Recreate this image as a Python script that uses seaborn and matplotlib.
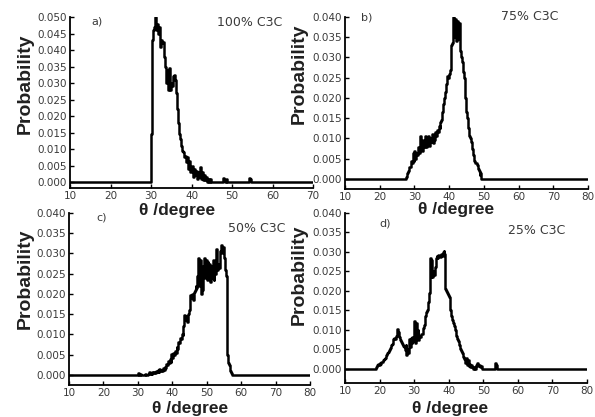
import numpy as np
import pandas as pd
import matplotlib
matplotlib.use("Agg")
import matplotlib.pyplot as plt
import seaborn as sns

# ---------------- data ----------------
step = 0.25

# a) 100% C3C
start_a = 29.75
prob_a = [0.0, 0.0145, 0.043, 0.046, 0.047, 0.050, 0.046, 0.048, 0.045, 0.047,
          0.041, 0.043, 0.042, 0.0425, 0.038, 0.035, 0.030, 0.034, 0.028, 0.0345,
          0.028, 0.030, 0.029, 0.032, 0.0325, 0.031, 0.027, 0.022, 0.018, 0.0145,
          0.013, 0.011, 0.0095, 0.009, 0.0075, 0.008, 0.006, 0.0075, 0.004, 0.0065,
          0.003, 0.005, 0.0015, 0.004, 0.002, 0.0035, 0.001, 0.003, 0.0015, 0.0045,
          0.001, 0.003, 0.0005, 0.002, 0.0005, 0.0015, 0.0, 0.001, 0.0, 0.0008,
          0.0, 0.0, 0.0, 0.0, 0.0, 0.0, 0.0, 0.0, 0.0, 0.0, 0.0, 0.0, 0.0012, 0.0006,
          0.0, 0.0008, 0.0, 0.0, 0.0, 0.0, 0.0, 0.0, 0.0, 0.0, 0.0, 0.0, 0.0, 0.0,
          0.0, 0.0, 0.0, 0.0, 0.0, 0.0, 0.0, 0.0, 0.0, 0.0, 0.0012, 0.0008, 0.0]

# b) 75% C3C
start_b = 27.25
prob_b = [0.0, 0.0005, 0.001, 0.0015, 0.002, 0.003, 0.003, 0.0045, 0.004, 0.0065,
          0.0045, 0.007, 0.005, 0.0065, 0.006, 0.008, 0.0065, 0.0105, 0.0075, 0.009,
          0.0070, 0.0095, 0.0078, 0.0105, 0.0080, 0.0095, 0.0085, 0.0105, 0.0082, 0.0100,
          0.0090, 0.0112, 0.0088, 0.0105, 0.0095, 0.0115, 0.0105, 0.0120, 0.0115, 0.0130,
          0.0125, 0.0140, 0.0145, 0.0165, 0.0185, 0.0200, 0.0215, 0.0235, 0.0240, 0.0255,
          0.0250, 0.0260, 0.0270, 0.0330, 0.0335, 0.0335, 0.0400, 0.0350, 0.0395, 0.0340,
          0.0390, 0.0345, 0.0385, 0.0330, 0.0315, 0.0300, 0.0290, 0.0265, 0.0250, 0.0200,
          0.0165, 0.0160, 0.0150, 0.0125, 0.0105, 0.0100, 0.0090, 0.0075, 0.0065, 0.0060,
          0.0045, 0.0040, 0.0040, 0.0035, 0.0025, 0.0020, 0.0010, 0.0015, 0.0]

# c) 50% C3C
start_c = 30.0
prob_c = [0.0004, 0.0, 0.0, 0.0003, 0.0, 0.0, 0.0, 0.0, 0.0002, 0.0, 0.0, 0.0,
          0.0003, 0.0006, 0.0003, 0.0005, 0.0002, 0.0006, 0.0004, 0.0008, 0.0005, 0.0009,
          0.0006, 0.0012, 0.0008, 0.0015, 0.0010, 0.0013, 0.0009, 0.0016, 0.0012, 0.0020,
          0.0018, 0.0028, 0.0024, 0.0034, 0.0030, 0.0040, 0.0033, 0.0052, 0.0042, 0.0055,
          0.0048, 0.0060, 0.0055, 0.0068, 0.0065, 0.0082, 0.0078, 0.0092, 0.0088, 0.0102,
          0.0098, 0.0120, 0.0148, 0.0135, 0.0145, 0.0130, 0.0150, 0.0160, 0.0175, 0.0198,
          0.0190, 0.0200, 0.0185, 0.0205, 0.0210, 0.0220, 0.0215, 0.0245, 0.0288, 0.0220,
          0.0285, 0.0200, 0.0260, 0.0210, 0.0270, 0.0290, 0.0240, 0.0285, 0.0235, 0.0280,
          0.0245, 0.0275, 0.0230, 0.0270, 0.0240, 0.0285, 0.0235, 0.0275, 0.0250, 0.0310,
          0.0260, 0.0275, 0.0265, 0.0295, 0.0305, 0.0322, 0.0300, 0.0315, 0.0290, 0.0260,
          0.0245, 0.0055, 0.0050, 0.0030, 0.0025, 0.0010, 0.0004, 0.0]

# d) 25% C3C
start_d = 18.75
prob_d = [0.0, 0.0005, 0.0008, 0.0012, 0.0010, 0.0015, 0.0013, 0.0018, 0.0017, 0.0022,
          0.0024, 0.0026, 0.0030, 0.0035, 0.0040, 0.0043, 0.0048, 0.0052, 0.0060, 0.0064,
          0.0070, 0.0075, 0.0078, 0.0077, 0.0085, 0.0103, 0.0095, 0.0088, 0.0080, 0.0073,
          0.0068, 0.0062, 0.0058, 0.0055, 0.0048, 0.0060, 0.0035, 0.0050, 0.0040, 0.0075,
          0.0055, 0.0078, 0.0065, 0.0080, 0.0070, 0.0122, 0.0065, 0.0118, 0.0080, 0.0100,
          0.0073, 0.0085, 0.0080, 0.0090, 0.0088, 0.0105, 0.0111, 0.0125, 0.0135, 0.0145,
          0.0150, 0.0170, 0.0195, 0.0285, 0.0235, 0.0280, 0.0235, 0.0250, 0.0240, 0.0260,
          0.0285, 0.0290, 0.0285, 0.0292, 0.0290, 0.0288, 0.0295, 0.0290, 0.0300, 0.0303,
          0.0295, 0.0205, 0.0200, 0.0195, 0.0190, 0.0185, 0.0160, 0.0150, 0.0135, 0.0125,
          0.0117, 0.0110, 0.0100, 0.0095, 0.0085, 0.0075, 0.0070, 0.0060, 0.0050, 0.0045,
          0.0040, 0.0035, 0.0030, 0.0025, 0.0015, 0.0028, 0.0010, 0.0022, 0.0006, 0.0012,
          0.0004, 0.0008, 0.0003, 0.0, 0.0004, 0.0, 0.0, 0.0008, 0.0015, 0.0006,
          0.0010, 0.0003, 0.0006, 0.0, 0.0, 0.0, 0.0, 0.0, 0.0, 0.0,
          0.0, 0.0, 0.0, 0.0, 0.0, 0.0, 0.0, 0.0, 0.0, 0.0015, 0.0008, 0.0]

panel_tags = ["a)", "b)", "c)", "d)"]
panel_titles = ["100% C3C", "75% C3C", "50% C3C", "25% C3C"]
x_ranges = [(10, 70), (10, 80), (10, 80), (10, 80)]
y_tops = [0.050, 0.040, 0.040, 0.040]
x_label = "θ /degree"
y_label = "Probability"

# ---------------- style ----------------
sns.set_style("ticks")
plt.rcParams["font.family"] = ["DejaVu Sans"]

W, H = 595, 417
fig = plt.figure(figsize=(W / 100, H / 100), dpi=100)
fig.patch.set_facecolor("white")


def px_rect(left, top, right, bottom):
    return [left / W, 1 - bottom / H, (right - left) / W, (bottom - top) / H]


layout = [
    dict(rect=(70, 17, 313, 188), ybot=-0.0018, xl=(0.44, -0.13), yl=(-0.185, 0.61),
         tag=(97, 21), title=(250, 22)),
    dict(rect=(345, 17, 588, 189), ybot=-0.0025, xl=(0.457, -0.12), yl=(-0.19, 0.67),
         tag=(367, 17), title=(530, 16)),
    dict(rect=(69, 213, 310, 385), ybot=-0.0025, xl=(0.502, -0.135), yl=(-0.183, 0.616),
         tag=(102, 217), title=(257, 229)),
    dict(rect=(345, 213, 587, 383), ybot=-0.0037, xl=(0.434, -0.15), yl=(-0.19, 0.635),
         tag=(385, 224), title=(537, 230)),
]

series = [(start_a, prob_a), (start_b, prob_b), (start_c, prob_c), (start_d, prob_d)]
gray = "#3a3a3a"

for i, ((start, vals), lay) in enumerate(zip(series, layout)):
    ax = fig.add_axes(px_rect(*lay["rect"]))
    xmin, xmax = x_ranges[i]
    xs = [xmin] + list(start + step * np.arange(len(vals))) + [xmax]
    ys = [0.0] + list(vals) + [0.0]
    df = pd.DataFrame({"theta": xs, "prob": ys})
    sns.lineplot(data=df, x="theta", y="prob", ax=ax, color="black", lw=1.8,
                 estimator=None, sort=False, drawstyle="steps-post")
    ax.set_xlim(xmin, xmax)
    ax.set_ylim(lay["ybot"], y_tops[i])
    ax.set_xticks(np.arange(xmin, xmax + 1, 10))
    ax.set_yticks(np.arange(0, y_tops[i] + 1e-9, 0.005))
    ax.yaxis.set_major_formatter(matplotlib.ticker.FormatStrFormatter("%.3f"))
    sns.despine(ax=ax)
    for s in ("left", "bottom"):
        ax.spines[s].set_linewidth(1.3)
        ax.spines[s].set_color("black")
    ax.tick_params(direction="in", length=3, width=1, color="black",
                   labelsize=7.5, labelcolor=gray, pad=2.5)
    ax.set_xlabel(x_label, fontsize=12.5, fontweight="bold", family="Liberation Sans",
                  color="#202020")
    ax.xaxis.set_label_coords(*lay["xl"])
    ax.xaxis.label.set_va("center")
    ax.set_ylabel(y_label, fontsize=14, fontweight="bold", family="Liberation Sans",
                  color="#202020")
    ax.yaxis.set_label_coords(*lay["yl"])
    ax.yaxis.label.set_va("center")
    ax.set_facecolor("none")
    tx, ty = lay["tag"]
    fig.text(tx / W, 1 - ty / H, panel_tags[i], fontsize=8, color=gray,
             ha="center", va="center")
    px_, py_ = lay["title"]
    fig.text(px_ / W, 1 - py_ / H, panel_titles[i], fontsize=9, color=gray,
             ha="center", va="center")

fig.savefig("out.png", dpi=100)
